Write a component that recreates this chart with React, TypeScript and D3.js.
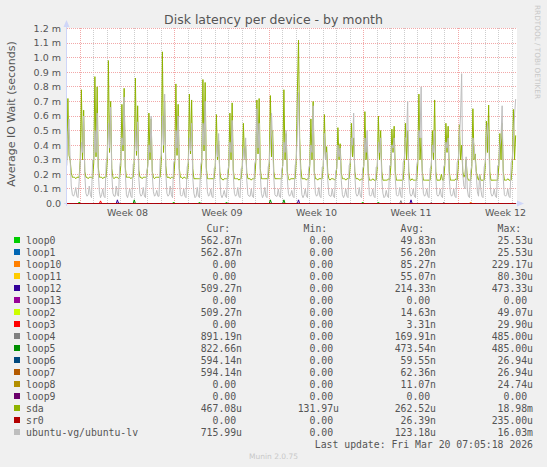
import React from 'react';
import * as d3 from 'd3';

const W = 547;
const H = 467;

// Time domain of the graph (UTC)
const domainStart = Date.UTC(2026, 1, 15, 0, 24);
const domainEnd = domainStart + 33.333 * 864e5;
// data: 2-hour samples starting Feb 15 00:00 UTC, values in milliseconds
const slotStart = Date.UTC(2026, 1, 15, 0, 0);
const slotMs = 2 * 3600e3;

const sdaByDay: number[][] = [
  [0.30,0.72,0.33,0.30,0.21,0.18,0.18,0.18,0.17,0.18,0.18,0.18],
  [0.30,0.78,0.30,0.64,0.22,0.18,0.18,0.17,0.18,0.18,0.18,0.17],
  [0.28,0.87,0.32,0.80,0.25,0.18,0.18,0.18,0.17,0.18,0.18,0.18],
  [0.30,0.98,0.35,0.70,0.24,0.18,0.17,0.18,0.18,0.18,0.17,0.18],
  [0.26,0.68,0.36,0.79,0.25,0.18,0.18,0.18,0.18,0.17,0.18,0.18],
  [0.30,0.86,0.33,0.67,0.23,0.18,0.18,0.17,0.18,0.18,0.18,0.18],
  [0.27,0.62,0.30,0.58,0.22,0.18,0.17,0.18,0.18,0.18,0.18,0.18],
  [0.30,1.04,0.35,0.70,0.26,0.18,0.18,0.18,0.17,0.18,0.18,0.17],
  [0.28,0.82,0.33,0.68,0.24,0.18,0.18,0.17,0.18,0.18,0.17,0.17],
  [0.26,0.75,0.34,0.71,0.24,0.17,0.17,0.17,0.17,0.17,0.17,0.17],
  [0.28,0.85,0.36,0.83,0.25,0.17,0.17,0.17,0.17,0.17,0.17,0.17],
  [0.26,0.61,0.30,0.43,0.22,0.17,0.17,0.16,0.17,0.17,0.17,0.17],
  [0.25,0.62,0.30,0.69,0.23,0.17,0.17,0.17,0.17,0.16,0.17,0.17],
  [0.26,0.55,0.30,0.40,0.21,0.17,0.17,0.17,0.16,0.17,0.17,0.17],
  [0.28,0.71,0.34,0.72,0.24,0.17,0.17,0.17,0.17,0.17,0.17,0.17],
  [0.27,0.74,0.32,0.50,0.22,0.17,0.17,0.17,0.17,0.17,0.17,0.17],
  [0.27,0.78,0.30,0.48,0.22,0.17,0.16,0.17,0.17,0.17,0.17,0.17],
  [0.30,0.77,1.12,0.45,0.24,0.17,0.17,0.17,0.17,0.16,0.17,0.17],
  [0.26,0.58,0.30,0.70,0.22,0.17,0.17,0.16,0.17,0.17,0.17,0.17],
  [0.26,0.61,0.30,0.39,0.21,0.17,0.16,0.17,0.17,0.17,0.16,0.17],
  [0.25,0.52,0.30,0.41,0.21,0.17,0.17,0.17,0.16,0.17,0.17,0.17],
  [0.27,0.55,0.32,0.45,0.22,0.17,0.17,0.17,0.16,0.16,0.17,0.16],
  [0.26,0.63,0.30,0.40,0.21,0.16,0.16,0.16,0.17,0.16,0.16,0.16],
  [0.25,0.60,0.30,0.50,0.22,0.16,0.16,0.16,0.16,0.16,0.17,0.16],
  [0.25,0.51,0.35,0.53,0.22,0.16,0.16,0.16,0.16,0.16,0.16,0.16],
  [0.26,0.55,0.30,0.50,0.22,0.16,0.16,0.17,0.16,0.16,0.16,0.16],
  [0.27,0.75,0.30,0.45,0.22,0.16,0.16,0.16,0.16,0.16,0.16,0.16],
  [0.25,0.50,0.30,0.71,0.22,0.16,0.16,0.16,0.16,0.20,0.16,0.16],
  [0.26,0.55,0.35,0.53,0.22,0.16,0.16,0.16,0.16,0.16,0.17,0.16],
  [0.26,0.54,0.30,0.40,0.22,0.18,0.20,0.30,0.18,0.16,0.16,0.16],
  [0.25,0.65,0.30,0.34,0.22,0.18,0.16,0.20,0.16,0.16,0.16,0.16],
  [0.26,0.565,0.35,0.675,0.22,0.16,0.16,0.16,0.16,0.16,0.16,0.16],
  [0.25,0.48,0.30,0.55,0.22,0.16,0.16,0.16,0.17,0.16,0.16,0.16],
  [0.26,0.645,0.30,0.467],
];

const lvByDay: number[][] = [
  [0.26,0.45,0.58,0.30,0.12,0.06,0.05,0.07,0.11,0.05,0.04,0.15],
  [0.28,0.42,0.35,0.60,0.20,0.07,0.05,0.06,0.12,0.06,0.04,0.30],
  [0.30,0.50,0.35,0.62,0.22,0.08,0.04,0.06,0.10,0.05,0.04,0.28],
  [0.32,0.55,0.38,0.66,0.20,0.07,0.05,0.05,0.12,0.06,0.05,0.25],
  [0.30,0.45,0.40,0.73,0.22,0.06,0.04,0.07,0.10,0.05,0.04,0.27],
  [0.28,0.50,0.36,0.56,0.18,0.07,0.05,0.06,0.11,0.05,0.04,0.22],
  [0.25,0.40,0.35,0.60,0.20,0.08,0.05,0.06,0.09,0.05,0.05,0.30],
  [0.33,0.60,0.40,0.75,0.22,0.07,0.05,0.06,0.12,0.06,0.04,0.28],
  [0.30,0.50,0.38,0.60,0.20,0.06,0.05,0.06,0.10,0.05,0.04,0.25],
  [0.28,0.45,0.36,0.55,0.18,0.07,0.04,0.05,0.11,0.05,0.04,0.26],
  [0.30,0.55,0.40,0.70,0.22,0.08,0.05,0.06,0.10,0.05,0.04,0.24],
  [0.25,0.40,0.32,0.48,0.18,0.06,0.04,0.06,0.09,0.05,0.04,0.22],
  [0.26,0.42,0.35,0.57,0.20,0.07,0.05,0.06,0.11,0.05,0.04,0.24],
  [0.24,0.38,0.30,0.45,0.16,0.06,0.05,0.05,0.10,0.05,0.04,0.27],
  [0.30,0.65,0.38,0.55,0.20,0.07,0.04,0.06,0.11,0.05,0.04,0.25],
  [0.28,0.45,0.62,0.40,0.18,0.06,0.05,0.05,0.10,0.05,0.04,0.23],
  [0.26,0.42,0.35,0.50,0.18,0.07,0.05,0.06,0.09,0.05,0.04,0.26],
  [0.30,0.50,0.76,0.40,0.18,0.06,0.04,0.06,0.10,0.05,0.04,0.24],
  [0.27,0.40,0.35,0.67,0.20,0.07,0.05,0.06,0.11,0.05,0.04,0.25],
  [0.25,0.48,0.30,0.35,0.16,0.06,0.05,0.05,0.10,0.05,0.04,0.22],
  [0.24,0.40,0.32,0.38,0.16,0.06,0.04,0.06,0.10,0.05,0.04,0.26],
  [0.28,0.45,0.40,0.62,0.20,0.07,0.05,0.06,0.11,0.05,0.04,0.24],
  [0.26,0.45,0.35,0.50,0.18,0.06,0.05,0.06,0.10,0.05,0.04,0.25],
  [0.25,0.42,0.35,0.45,0.17,0.07,0.04,0.05,0.09,0.05,0.04,0.26],
  [0.26,0.40,0.38,0.45,0.17,0.06,0.05,0.06,0.11,0.05,0.04,0.28],
  [0.30,0.45,0.45,0.70,0.18,0.07,0.05,0.06,0.10,0.05,0.04,0.26],
  [0.30,0.50,0.45,0.80,0.18,0.07,0.05,0.06,0.10,0.05,0.04,0.24],
  [0.26,0.40,0.35,0.50,0.18,0.06,0.05,0.06,0.10,0.05,0.04,0.25],
  [0.27,0.42,0.38,0.45,0.17,0.07,0.05,0.06,0.10,0.05,0.04,0.28],
  [0.30,0.45,0.60,0.89,0.20,0.12,0.10,0.32,0.10,0.05,0.04,0.22],
  [0.26,0.45,0.40,0.30,0.20,0.08,0.05,0.20,0.10,0.05,0.04,0.25],
  [0.28,0.45,0.55,0.45,0.18,0.07,0.05,0.06,0.10,0.05,0.04,0.26],
  [0.26,0.40,0.45,0.67,0.17,0.06,0.05,0.06,0.10,0.05,0.04,0.28],
  [0.30,0.45,0.60,0.716],
];

// small non-zero samples of the loop devices: [slot index, value in ms]
const loop0Events: [number, number][] = [[11, 0.01], [95, 0.01], [118, 0.01], [142, 0.01], [263, 0.01], [277, 0.01]];
const loop1Events: [number, number][] = [[46, 0.008]];
const loop3Events: [number, number][] = [[30, 0.018]];
const loop4Events: [number, number][] = [[297, 0.02], [324, 0.008], [335, 0.008]];
const loop5Events: [number, number][] = [[60, 0.025], [181, 0.025], [193, 0.025]];
const loop10Events: [number, number][] = [[359, 0.01]];
const loop12Events: [number, number][] = [[45, 0.025], [206, 0.025], [306, 0.025]];

const deviceNames = ['loop0', 'loop1', 'loop10', 'loop11', 'loop12', 'loop13', 'loop2', 'loop3', 'loop4', 'loop5', 'loop6', 'loop7', 'loop8', 'loop9', 'sda', 'sr0', 'ubuntu-vg/ubuntu-lv'];
const deviceColors = ['#00CC00', '#0066B3', '#FF8000', '#FFCC00', '#330099', '#990099', '#CCFF00', '#FF0000', '#808080', '#008F00', '#00487D', '#B35A00', '#B38F00', '#6B006B', '#8FB300', '#B30000', '#BEBEBE'];
const curValues = ['562.87n', '562.87n', '0.00', '0.00', '509.27n', '0.00', '509.27n', '0.00', '891.19n', '822.66n', '594.14n', '594.14n', '0.00', '0.00', '467.08u', '0.00', '715.99u'];
const minValues = ['0.00', '0.00', '0.00', '0.00', '0.00', '0.00', '0.00', '0.00', '0.00', '0.00', '0.00', '0.00', '0.00', '0.00', '131.97u', '0.00', '0.00'];
const avgValues = ['49.83n', '56.20n', '85.27n', '55.07n', '214.33n', '0.00', '14.63n', '3.31n', '169.91n', '473.54n', '59.55n', '62.36n', '11.07n', '0.00', '262.52u', '26.39n', '123.18u'];
const maxValues = ['25.53u', '25.53u', '229.17u', '80.30u', '473.33u', '0.00', '49.07u', '29.90u', '485.00u', '485.00u', '26.94u', '26.94u', '24.74u', '0.00', '18.98m', '235.00u', '16.03m'];

const yTickValues = [0, 0.1, 0.2, 0.3, 0.4, 0.5, 0.6, 0.7, 0.8, 0.9, 1.0, 1.1, 1.2];
const yTickLabels = ['0.0', '0.1 m', '0.2 m', '0.3 m', '0.4 m', '0.5 m', '0.6 m', '0.7 m', '0.8 m', '0.9 m', '1.0 m', '1.1 m', '1.2 m'];
const weekLabels = ['Week 08', 'Week 09', 'Week 10', 'Week 11', 'Week 12'];

const titleText = 'Disk latency per device - by month';
const yAxisTitle = 'Average IO Wait (seconds)';
const lastUpdate = 'Last update: Fri Mar 20 07:05:18 2026';

export default function App() {
  const sda = sdaByDay.flat();
  const lv = lvByDay.flat();
  const n = sda.length;
  const fromEvents = (ev: [number, number][]) => {
    const arr = new Array(n).fill(0);
    ev.forEach(([i, v]) => { arr[i] = v; });
    return arr;
  };
  const eventMap: Record<string, [number, number][]> = {
    loop0: loop0Events, loop1: loop1Events, loop3: loop3Events, loop4: loop4Events,
    loop5: loop5Events, loop10: loop10Events, loop12: loop12Events,
  };
  const seriesData: number[][] = deviceNames.map((name) => {
    if (name === 'sda') return sda;
    if (name === 'ubuntu-vg/ubuntu-lv') return lv;
    return fromEvents(eventMap[name] || []);
  });

  const x = d3.scaleUtc().domain([new Date(domainStart), new Date(domainEnd)]).range([67, 517]);
  const y = d3.scaleLinear().domain([0, 1.2]).range([203.5, 28.5]);
  const slotDate = (i: number) => new Date(slotStart + i * slotMs);
  const line = d3.line<number>().x((_, i) => x(slotDate(i))).y((v) => y(v));

  const days = d3.utcDay.range(new Date(domainStart), new Date(domainEnd));
  const mondays = d3.utcMonday.range(new Date(domainStart), new Date(domainEnd));
  const mondaySet = new Set(mondays.map((d) => d.getTime()));

  const sans = 'DejaVu Sans, sans-serif';
  const mono = 'DejaVu Sans Mono, monospace';
  const fontColor = '#555';
  const charW = 5.9;
  const cols = [242, 339, 436, 533];
  const headers = ['Cur:', 'Min:', 'Avg:', 'Max:'];
  const valueCols = [curValues, minValues, avgValues, maxValues];
  const rowY = (i: number) => 240 + 12 * i;

  return (
    <svg width={W} height={H} style={{ position: 'absolute', left: 0, top: 0 }} xmlns="http://www.w3.org/2000/svg">
      <defs>
        <clipPath id="plotClip">
          <rect x={67} y={20} width={450} height={185} />
        </clipPath>
      </defs>
      <rect x={0} y={0} width={W} height={H} fill="#F0F0F0" />
      <rect x={67} y={28} width={450} height={176} fill="#FFFFFF" />

      {/* vertical day grid */}
      {days.map((d, i) => {
        const px = Math.floor(x(d)) + 0.5;
        if (px < 67 || mondaySet.has(d.getTime())) return null;
        return <line key={'d' + i} x1={px} x2={px} y1={28} y2={204} stroke="#CDCDCD" strokeDasharray="1 1" shapeRendering="crispEdges" />;
      })}
      {/* horizontal major grid */}
      {yTickValues.map((v, i) => (
        <line key={'h' + i} x1={67} x2={517} y1={y(v)} y2={y(v)} stroke="#F2A8A8" strokeDasharray="1 1" shapeRendering="crispEdges" />
      ))}
      {/* week grid */}
      {mondays.map((d, i) => {
        const px = Math.floor(x(d)) + 0.5;
        return <line key={'m' + i} x1={px} x2={px} y1={28} y2={204} stroke="#F2A8A8" strokeDasharray="1 1" shapeRendering="crispEdges" />;
      })}

      {/* axes */}
      <line x1={66.5} x2={66.5} y1={24} y2={206} stroke="#CFD6F8" shapeRendering="crispEdges" />
      <path d="M63.5,27 L66.5,20 L69.5,27 Z" fill="#CFD6F8" />
      <line x1={64} x2={520} y1={203.5} y2={203.5} stroke="#CFD6F8" shapeRendering="crispEdges" />
      <path d="M517,200.5 L524,203.5 L517,206.5 Z" fill="#CFD6F8" />

      {/* series lines */}
      <g clipPath="url(#plotClip)">
        {seriesData.map((s, i) => (
          <path key={'s' + i} d={line(s) || ''} fill="none" stroke={deviceColors[i]} strokeWidth={1} />
        ))}
      </g>

      {/* y tick labels */}
      {yTickValues.map((v, i) => (
        <text key={'yt' + i} x={61} y={y(v) + 3.4} textAnchor="end" fontFamily={sans} fontSize={9.5} fill={fontColor}>{yTickLabels[i]}</text>
      ))}
      {/* week labels */}
      {mondays.map((d, i) => (
        <text key={'wk' + i} x={x(d3.utcHour.offset(d, 84))} y={215.5} textAnchor="middle" fontFamily={sans} fontSize={9.5} fill={fontColor}>{weekLabels[i]}</text>
      ))}

      {/* title */}
      <text x={273.5} y={24} textAnchor="middle" fontFamily={sans} fontSize={12.5} fill={fontColor}>{titleText}</text>
      {/* y axis title */}
      <text transform="translate(14.5,114) rotate(-90)" textAnchor="middle" fontFamily={sans} fontSize={11} fill={fontColor}>{yAxisTitle}</text>
      {/* rrdtool credit */}
      <text transform="translate(535,5) rotate(90)" textAnchor="start" fontFamily={sans} fontSize={7.3} fill="#C8C8C8">RRDTOOL / TOBI OETIKER</text>

      {/* legend headers */}
      {headers.map((h, i) => (
        <text key={'hd' + i} x={cols[i] - 2 * charW} y={228 + 3.5} textAnchor="end" fontFamily={mono} fontSize={9.8} fill={fontColor}>{h}</text>
      ))}
      {deviceNames.map((name, i) => (
        <g key={'lg' + i}>
          <rect x={14} y={rowY(i) - 3} width={6} height={6} fill={deviceColors[i]} />
          <text x={26} y={rowY(i) + 3.5} fontFamily={mono} fontSize={9.8} fill={fontColor}>{name}</text>
          {valueCols.map((col, c) => {
            const v = col[i];
            const hasUnit = /[a-zA-Z]$/.test(v);
            return (
              <text key={'v' + c} x={hasUnit ? cols[c] : cols[c] - charW} y={rowY(i) + 3.5} textAnchor="end" fontFamily={mono} fontSize={9.8} fill={fontColor}>{v}</text>
            );
          })}
        </g>
      ))}
      <text x={533} y={444 + 3.5} textAnchor="end" fontFamily={mono} fontSize={9.8} fill={fontColor}>{lastUpdate}</text>
      <text x={273.5} y={456 + 3} textAnchor="middle" fontFamily={sans} fontSize={7.5} fill="#C8C8C8">Munin 2.0.75</text>
    </svg>
  );
}
